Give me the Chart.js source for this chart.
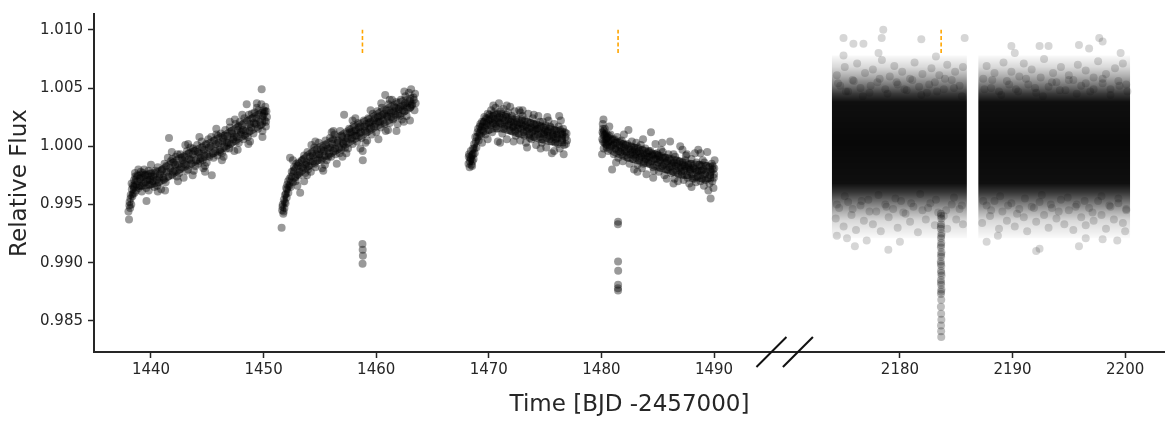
<!DOCTYPE html>
<html><head><meta charset="utf-8">
<script src="https://cdn.jsdelivr.net/npm/chart.js@4"></script>
<style>html,body{margin:0;padding:0;background:#fff}canvas{display:block}</style>
</head><body>
<canvas id="c" width="1165" height="422"></canvas>
<script>
// ---------- DATA ----------
const xTickValues = [1440, 1450, 1460, 1470, 1480, 1490, 2180, 2190, 2200];
const yTickValues = [0.985, 0.990, 0.995, 1.000, 1.005, 1.010];
const transitTimes = [1458.78, 1481.48, 2183.66];
const transitMarkFlux = [1.0080, 1.0100];
const leftPanelRange = [1434.94, 1495.1];
const rightPanelRange = [2170.94, 2203.54];

const segA = [[1438.00,0.9944],[1438.05,0.9937],[1438.10,0.9952],[1438.15,0.9947],[1438.20,0.9958],[1438.25,0.9950],[1438.30,0.9963],[1438.35,0.9957],[1438.40,0.9966],[1438.50,0.9971],[1438.55,0.9960],[1438.60,0.9974],[1438.70,0.9967],[1438.80,0.9975],[1438.90,0.9964],[1439.00,0.9972],[1439.10,0.9978],[1439.20,0.9966],[1439.30,0.9974],[1439.40,0.9980],[1439.50,0.9969],[1439.60,0.9953],[1439.70,0.9975],[1439.80,0.9962],[1439.90,0.9971],[1440.00,0.9977],[1440.10,0.9968],[1440.20,0.9974],[1440.30,0.9965],[1440.40,0.9979],[1440.50,0.9971],[1440.60,0.9982],[1440.70,0.9969],[1440.80,0.9976],[1440.90,0.9963],[1441.00,0.9980],[1441.10,0.9973],[1441.20,0.9985],[1441.25,0.9962],[1441.30,0.9969],[1441.40,0.9978],[1441.50,0.9990],[1441.60,1.0007],[1441.70,0.9981],[1441.90,0.9975],[1442.00,0.9986],[1442.10,0.9979],[1442.20,0.9991],[1442.30,0.9974],[1442.40,0.9984],[1442.50,0.9977],[1442.60,0.9993],[1442.70,0.9982],[1442.80,0.9988],[1442.90,0.9973],[1443.00,0.9991],[1443.10,0.9984],[1443.20,0.9996],[1443.30,0.9980],[1443.40,0.9989],[1443.50,0.9999],[1443.60,0.9985],[1443.70,0.9993],[1443.80,0.9979],[1443.90,0.9996],[1444.00,0.9988],[1444.10,1.0001],[1444.20,0.9985],[1444.30,0.9994],[1444.40,0.9990],[1444.50,1.0004],[1444.60,0.9988],[1444.70,0.9997],[1444.80,0.9983],[1444.90,1.0002],[1445.00,0.9993],[1445.10,1.0006],[1445.20,0.9991],[1445.30,1.0000],[1445.40,0.9975],[1445.50,0.9994],[1445.60,1.0005],[1445.70,0.9996],[1445.80,1.0010],[1445.90,0.9992],[1446.00,1.0003],[1446.10,0.9997],[1446.20,1.0011],[1446.30,0.9994],[1446.40,1.0007],[1446.50,1.0000],[1446.60,1.0014],[1446.70,0.9998],[1446.80,1.0009],[1446.90,1.0003],[1447.00,1.0016],[1447.10,1.0002],[1447.20,1.0011],[1447.30,1.0006],[1447.40,0.9996],[1447.50,1.0019],[1447.60,1.0008],[1447.70,1.0014],[1447.80,1.0003],[1447.90,1.0021],[1448.00,1.0012],[1448.10,1.0018],[1448.20,1.0006],[1448.30,1.0024],[1448.40,1.0013],[1448.50,1.0036],[1448.60,1.0008],[1448.70,1.0027],[1448.80,1.0019],[1448.90,1.0016],[1449.00,1.0024],[1449.10,1.0011],[1449.20,1.0029],[1449.30,1.0019],[1449.40,1.0033],[1449.50,1.0015],[1449.60,1.0027],[1449.70,1.0021],[1449.80,1.0036],[1449.83,1.0049],[1449.90,1.0013],[1450.00,1.0031],[1450.05,1.0028],[1450.10,1.0022],[1450.15,1.0034],[1450.20,1.0017],[1450.25,1.0030],[1450.30,1.0025]];
const segA2 = [[1438.08,0.9949],[1438.18,0.9955],[1438.28,0.9968],[1438.38,0.9959],[1438.48,0.9965],[1438.58,0.9977],[1438.68,0.9962],[1438.78,0.9970],[1438.88,0.9980],[1438.98,0.9966],[1439.08,0.9973],[1439.18,0.9961],[1439.28,0.9977],[1439.38,0.9968],[1439.48,0.9975],[1439.58,0.9964],[1439.68,0.9971],[1439.78,0.9979],[1439.88,0.9967],[1439.98,0.9974],[1440.15,0.9970],[1440.35,0.9976],[1440.55,0.9966],[1440.75,0.9973],[1440.95,0.9979],[1441.15,0.9971],[1441.35,0.9983],[1441.55,0.9974],[1441.75,0.9987],[1441.85,0.9995],[1441.95,0.9978],[1442.15,0.9984],[1442.35,0.9993],[1442.55,0.9980],[1442.75,0.9990],[1442.95,0.9985],[1443.05,1.0001],[1443.15,0.9979],[1443.35,0.9994],[1443.55,0.9988],[1443.75,0.9998],[1443.95,0.9983],[1444.15,0.9995],[1444.35,0.9987],[1444.55,0.9999],[1444.65,0.9981],[1444.75,0.9992],[1444.95,0.9986],[1445.15,0.9999],[1445.35,1.0008],[1445.55,0.9990],[1445.75,1.0002],[1445.95,1.0009],[1446.15,0.9995],[1446.35,1.0004],[1446.45,0.9991],[1446.55,1.0009],[1446.75,1.0003],[1446.95,0.9998],[1447.15,1.0013],[1447.35,1.0008],[1447.45,1.0023],[1447.55,1.0004],[1447.75,1.0017],[1447.95,1.0010],[1448.15,1.0014],[1448.35,1.0009],[1448.55,1.0022],[1448.65,1.0002],[1448.75,1.0013],[1448.95,1.0028],[1449.15,1.0020],[1449.35,1.0024],[1449.55,1.0031],[1449.75,1.0018],[1449.95,1.0026],[1450.12,1.0030],[1450.22,1.0021],[1440.0,0.9984],[1440.6,0.9961],[1441.9,0.9989],[1442.4,0.9970],[1443.3,1.0002],[1443.7,0.9975],[1444.3,1.0008],[1444.8,0.9978],[1445.8,1.0015],[1446.3,0.9988],[1447.0,1.0021],[1447.7,0.9997],[1448.1,1.0027],[1448.8,1.0004],[1449.4,1.0037],[1449.9,1.0008]];

const segB = [[1451.60,0.9930],[1451.65,0.9945],[1451.70,0.9950],[1451.75,0.9942],[1451.80,0.9954],[1451.85,0.9947],[1451.90,0.9958],[1451.95,0.9951],[1452.00,0.9964],[1452.05,0.9956],[1452.10,0.9967],[1452.20,0.9960],[1452.30,0.9972],[1452.35,0.9990],[1452.40,0.9965],[1452.50,0.9978],[1452.60,0.9969],[1452.70,0.9982],[1452.80,0.9973],[1452.90,0.9985],[1453.00,0.9976],[1453.10,0.9986],[1453.20,0.9978],[1453.25,0.9960],[1453.40,0.9988],[1453.50,0.9981],[1453.60,0.9992],[1453.70,0.9977],[1453.80,0.9986],[1453.90,0.9995],[1454.00,0.9983],[1454.10,0.9991],[1454.20,0.9978],[1454.30,0.9994],[1454.40,0.9987],[1454.50,0.9999],[1454.60,0.9982],[1454.70,0.9993],[1454.80,0.9988],[1454.90,1.0003],[1455.00,0.9990],[1455.10,0.9997],[1455.20,0.9981],[1455.30,0.9999],[1455.40,0.9992],[1455.50,1.0005],[1455.60,0.9988],[1455.70,0.9998],[1455.80,0.9994],[1455.90,1.0007],[1456.00,0.9991],[1456.10,1.0002],[1456.20,0.9996],[1456.30,1.0010],[1456.40,0.9993],[1456.50,0.9985],[1456.60,1.0005],[1456.70,0.9999],[1456.80,1.0013],[1456.90,0.9997],[1457.00,1.0008],[1457.10,1.0002],[1457.15,1.0027],[1457.30,1.0004],[1457.40,1.0011],[1457.50,0.9998],[1457.60,1.0015],[1457.70,1.0006],[1457.80,1.0012],[1457.90,1.0002],[1458.00,1.0018],[1458.10,1.0009],[1458.20,1.0014],[1458.30,1.0004],[1458.40,1.0020],[1458.50,1.0011],[1458.60,1.0017],[1458.70,1.0007],[1458.90,1.0022],[1459.00,1.0013],[1459.10,1.0019],[1459.20,1.0005],[1459.30,1.0024],[1459.40,1.0015],[1459.50,1.0021],[1459.60,1.0010],[1459.70,1.0028],[1459.80,1.0017],[1459.90,1.0024],[1460.00,1.0012],[1460.10,1.0030],[1460.20,1.0021],[1460.30,1.0026],[1460.40,1.0016],[1460.50,1.0033],[1460.60,1.0022],[1460.70,1.0028],[1460.80,1.0044],[1460.85,1.0013],[1460.90,1.0031],[1461.00,1.0025],[1461.10,1.0036],[1461.20,1.0020],[1461.30,1.0029],[1461.40,1.0040],[1461.50,1.0023],[1461.60,1.0034],[1461.70,1.0027],[1461.80,1.0038],[1461.90,1.0019],[1462.00,1.0032],[1462.10,1.0026],[1462.20,1.0040],[1462.30,1.0023],[1462.40,1.0035],[1462.50,1.0030],[1462.60,1.0043],[1462.70,1.0026],[1462.80,1.0037],[1462.90,1.0046],[1463.00,1.0033],[1463.10,1.0049],[1463.20,1.0036],[1463.30,1.0042],[1463.40,1.0031],[1463.45,1.0045]];
const segB2 = [[1451.68,0.9948],[1451.78,0.9944],[1451.88,0.9952],[1451.98,0.9959],[1452.08,0.9963],[1452.18,0.9970],[1452.28,0.9966],[1452.45,0.9974],[1452.65,0.9979],[1452.85,0.9970],[1453.05,0.9983],[1453.15,0.9975],[1453.35,0.9982],[1453.55,0.9989],[1453.75,0.9984],[1453.85,0.9975],[1453.95,0.9980],[1454.15,0.9987],[1454.25,1.0001],[1454.35,0.9992],[1454.55,0.9985],[1454.75,0.9997],[1454.95,0.9993],[1455.15,0.9988],[1455.35,0.9996],[1455.45,0.9984],[1455.55,1.0001],[1455.75,0.9991],[1455.95,0.9999],[1456.05,1.0012],[1456.15,1.0006],[1456.35,0.9998],[1456.55,1.0003],[1456.75,0.9994],[1456.95,1.0009],[1457.05,1.0003],[1457.25,0.9999],[1457.35,0.9994],[1457.45,1.0007],[1457.65,1.0012],[1457.85,1.0007],[1458.05,1.0013],[1458.15,1.0024],[1458.25,1.0009],[1458.45,1.0016],[1458.65,1.0012],[1458.95,1.0017],[1459.05,1.0003],[1459.15,1.0012],[1459.35,1.0020],[1459.55,1.0016],[1459.75,1.0022],[1459.95,1.0019],[1460.15,1.0025],[1460.35,1.0021],[1460.45,1.0037],[1460.55,1.0027],[1460.75,1.0019],[1460.95,1.0026],[1461.05,1.0014],[1461.15,1.0031],[1461.35,1.0025],[1461.55,1.0030],[1461.75,1.0033],[1461.95,1.0028],[1462.15,1.0034],[1462.35,1.0031],[1462.45,1.0021],[1462.55,1.0037],[1462.75,1.0033],[1462.95,1.0039],[1463.15,1.0035],[1463.35,1.0040],[1463.50,1.0037],[1453.6,0.9970],[1454.6,1.0004],[1455.3,0.9979],[1456.2,1.0013],[1457.0,0.9991],[1457.9,1.0022],[1458.6,0.9998],[1459.5,1.0031],[1460.2,1.0006],[1461.2,1.0040],[1461.8,1.0013],[1462.5,1.0047],[1463.0,1.0022],[1452.6,0.9988],[1453.0,0.9966]];

const segC = [[1468.20,0.9985],[1468.25,0.9993],[1468.30,0.9982],[1468.35,0.9990],[1468.40,0.9996],[1468.45,0.9984],[1468.50,0.9992],[1468.55,0.9987],[1468.60,0.9998],[1468.65,0.9989],[1468.70,1.0002],[1468.75,0.9994],[1468.80,1.0008],[1468.90,0.9999],[1469.00,1.0012],[1469.10,1.0005],[1469.20,1.0017],[1469.30,1.0009],[1469.40,1.0021],[1469.50,1.0013],[1469.60,1.0025],[1469.70,1.0010],[1469.80,1.0020],[1469.90,1.0028],[1470.00,1.0014],[1470.10,1.0023],[1470.20,1.0031],[1470.30,1.0012],[1470.40,1.0026],[1470.50,1.0019],[1470.60,1.0033],[1470.70,1.0015],[1470.80,1.0024],[1470.90,1.0037],[1471.00,1.0020],[1471.10,1.0028],[1471.20,1.0011],[1471.30,1.0032],[1471.40,1.0017],[1471.50,1.0025],[1471.60,1.0006],[1471.70,1.0029],[1471.80,1.0019],[1471.90,1.0034],[1472.00,1.0013],[1472.10,1.0023],[1472.20,1.0017],[1472.30,1.0030],[1472.40,1.0009],[1472.50,1.0021],[1472.60,1.0015],[1472.70,1.0031],[1472.80,1.0005],[1472.90,1.0019],[1473.00,1.0026],[1473.10,1.0012],[1473.20,1.0022],[1473.30,1.0003],[1473.40,1.0016],[1473.50,1.0028],[1473.60,1.0010],[1473.70,1.0020],[1473.80,1.0006],[1473.90,1.0024],[1474.00,1.0013],[1474.10,1.0018],[1474.20,1.0001],[1474.30,1.0015],[1474.40,1.0026],[1474.50,1.0008],[1474.60,1.0017],[1474.70,1.0003],[1474.80,1.0021],[1474.90,1.0010],[1475.00,1.0014],[1475.10,0.9999],[1475.20,1.0012],[1475.30,1.0022],[1475.40,1.0006],[1475.50,1.0016],[1475.60,0.9994],[1475.70,1.0010],[1475.80,1.0019],[1475.90,1.0003],[1476.00,1.0013],[1476.10,1.0007],[1476.20,1.0017],[1476.25,1.0026],[1476.30,0.9998],[1476.40,1.0011],[1476.50,1.0005],[1476.60,1.0015],[1476.65,0.9993],[1476.70,1.0001],[1476.80,1.0008],[1476.85,1.0002],[1476.90,1.0011]];
const segC2 = [[1468.22,0.9991],[1468.32,0.9987],[1468.42,0.9989],[1468.52,0.9983],[1468.62,0.9993],[1468.72,0.9998],[1468.85,1.0004],[1468.95,1.0008],[1469.05,1.0015],[1469.15,1.0011],[1469.25,1.0019],[1469.35,1.0014],[1469.45,1.0017],[1469.55,1.0021],[1469.65,1.0016],[1469.75,1.0024],[1469.85,1.0018],[1469.95,1.0022],[1470.05,1.0027],[1470.15,1.0018],[1470.25,1.0024],[1470.35,1.0020],[1470.45,1.0029],[1470.55,1.0023],[1470.65,1.0017],[1470.75,1.0028],[1470.85,1.0021],[1470.95,1.0025],[1471.05,1.0030],[1471.15,1.0019],[1471.25,1.0024],[1471.35,1.0015],[1471.45,1.0022],[1471.55,1.0027],[1471.65,1.0018],[1471.75,1.0023],[1471.85,1.0014],[1471.95,1.0021],[1472.05,1.0026],[1472.15,1.0016],[1472.25,1.0020],[1472.35,1.0013],[1472.45,1.0024],[1472.55,1.0018],[1472.65,1.0011],[1472.75,1.0020],[1472.85,1.0015],[1472.95,1.0023],[1473.05,1.0017],[1473.15,1.0009],[1473.25,1.0018],[1473.35,1.0013],[1473.45,1.0021],[1473.55,1.0015],[1473.65,1.0007],[1473.75,1.0016],[1473.85,1.0012],[1473.95,1.0019],[1474.05,1.0008],[1474.15,1.0014],[1474.25,1.0019],[1474.35,1.0010],[1474.45,1.0015],[1474.55,1.0021],[1474.65,1.0011],[1474.75,1.0006],[1474.85,1.0016],[1474.95,1.0012],[1475.05,1.0018],[1475.15,1.0007],[1475.25,1.0013],[1475.35,1.0009],[1475.45,1.0017],[1475.55,1.0004],[1475.65,1.0012],[1475.75,1.0008],[1475.85,1.0014],[1475.95,1.0006],[1476.05,1.0010],[1476.15,1.0002],[1476.35,1.0014],[1476.45,1.0007],[1476.55,1.0010],[1476.75,1.0012],[1476.95,1.0005],[1469.9,1.0006],[1470.4,1.0035],[1471.0,1.0003],[1471.6,1.0035],[1472.2,1.0004],[1472.8,1.0029],[1473.4,0.9999],[1474.0,1.0027],[1474.6,0.9998],[1475.2,1.0025],[1475.8,0.9996],[1476.4,1.0022],[1470.8,1.0004],[1473.0,1.0031],[1469.4,1.0003]];

const segD = [[1480.06,0.9993],[1480.10,1.0012],[1480.12,1.0019],[1480.15,1.0004],[1480.18,1.0023],[1480.20,0.9998],[1480.25,1.0009],[1480.30,1.0015],[1480.40,1.0006],[1480.45,1.0011],[1480.50,1.0001],[1480.55,1.0008],[1480.60,0.9996],[1480.65,1.0004],[1480.80,1.0010],[1480.90,1.0000],[1480.95,0.9980],[1481.00,1.0006],[1481.10,0.9993],[1481.20,1.0003],[1481.30,0.9997],[1481.40,1.0008],[1481.50,0.9990],[1481.60,1.0001],[1481.70,0.9995],[1481.80,1.0005],[1481.90,0.9987],[1482.00,0.9999],[1482.20,0.9992],[1482.30,1.0002],[1482.40,1.0014],[1482.50,0.9985],[1482.60,0.9997],[1482.70,1.0004],[1482.80,0.9989],[1482.90,0.9999],[1483.00,0.9993],[1483.10,1.0003],[1483.20,0.9984],[1483.30,0.9996],[1483.40,0.9990],[1483.50,1.0001],[1483.60,0.9981],[1483.70,0.9994],[1483.80,0.9987],[1483.90,0.9998],[1484.00,0.9976],[1484.10,0.9991],[1484.20,0.9996],[1484.30,0.9985],[1484.40,1.0012],[1484.50,0.9993],[1484.60,0.9982],[1484.70,0.9989],[1484.80,1.0002],[1484.90,0.9984],[1485.00,0.9992],[1485.10,0.9978],[1485.20,0.9988],[1485.30,0.9997],[1485.40,0.9983],[1485.50,0.9990],[1485.60,0.9975],[1485.70,0.9986],[1485.90,0.9980],[1486.00,0.9989],[1486.10,1.0004],[1486.20,0.9977],[1486.30,0.9985],[1486.40,0.9993],[1486.50,0.9972],[1486.60,0.9983],[1486.70,0.9988],[1486.80,0.9970],[1486.90,0.9981],[1487.00,1.0000],[1487.10,0.9978],[1487.20,0.9986],[1487.30,0.9971],[1487.40,0.9983],[1487.50,0.9992],[1487.60,0.9975],[1487.70,0.9984],[1487.80,0.9968],[1487.90,0.9980],[1488.00,0.9989],[1488.10,0.9972],[1488.20,0.9981],[1488.30,0.9994],[1488.40,0.9969],[1488.50,0.9978],[1488.60,0.9997],[1488.70,0.9984],[1488.80,0.9970],[1488.90,0.9979],[1489.00,0.9988],[1489.10,0.9966],[1489.20,0.9976],[1489.30,0.9983],[1489.40,0.9995],[1489.45,0.9972],[1489.60,0.9968],[1489.70,0.9955],[1489.75,0.9978],[1489.80,0.9985],[1489.85,0.9970],[1489.90,0.9980],[1489.95,0.9964],[1490.00,0.9976],[1490.05,0.9988]];
const segD2 = [[1480.08,1.0006],[1480.13,1.0015],[1480.16,1.0010],[1480.22,1.0013],[1480.28,1.0003],[1480.33,1.0010],[1480.38,1.0002],[1480.48,1.0007],[1480.58,1.0003],[1480.68,1.0009],[1480.75,0.9999],[1480.85,1.0005],[1481.05,1.0001],[1481.15,1.0006],[1481.25,0.9998],[1481.35,1.0003],[1481.55,0.9996],[1481.65,1.0004],[1481.75,0.9999],[1481.85,0.9993],[1481.95,1.0002],[1482.05,0.9996],[1482.15,1.0001],[1482.25,0.9995],[1482.35,0.9990],[1482.45,0.9998],[1482.55,0.9993],[1482.65,1.0000],[1482.75,0.9995],[1482.85,0.9992],[1482.95,0.9997],[1483.05,0.9990],[1483.15,0.9995],[1483.25,0.9999],[1483.35,0.9988],[1483.45,0.9994],[1483.55,0.9991],[1483.65,0.9997],[1483.75,0.9985],[1483.85,0.9992],[1483.95,0.9989],[1484.05,0.9994],[1484.15,0.9986],[1484.25,0.9991],[1484.35,0.9996],[1484.45,0.9987],[1484.55,0.9992],[1484.65,0.9979],[1484.75,0.9993],[1484.85,0.9989],[1484.95,0.9994],[1485.05,0.9986],[1485.15,0.9991],[1485.25,0.9981],[1485.35,0.9990],[1485.45,0.9995],[1485.55,0.9984],[1485.65,0.9990],[1485.75,0.9980],[1485.85,0.9987],[1485.95,0.9993],[1486.05,0.9982],[1486.15,0.9988],[1486.25,0.9983],[1486.35,0.9978],[1486.45,0.9986],[1486.55,0.9991],[1486.65,0.9979],[1486.75,0.9985],[1486.85,0.9976],[1486.95,0.9987],[1487.05,0.9982],[1487.15,0.9975],[1487.25,0.9984],[1487.35,0.9979],[1487.45,0.9988],[1487.55,0.9981],[1487.65,0.9973],[1487.75,0.9982],[1487.85,0.9978],[1487.95,0.9985],[1488.05,0.9976],[1488.15,0.9983],[1488.25,0.9972],[1488.35,0.9980],[1488.45,0.9986],[1488.55,0.9974],[1488.65,0.9979],[1488.75,0.9975],[1488.85,0.9983],[1488.95,0.9972],[1489.05,0.9980],[1489.15,0.9986],[1489.25,0.9971],[1489.35,0.9978],[1489.55,0.9982],[1489.65,0.9975],[1489.88,0.9983],[1489.98,0.9973],[1490.02,0.9981],[1480.7,1.0017],[1481.3,0.9986],[1482.0,1.0010],[1482.9,0.9980],[1483.7,1.0006],[1484.6,0.9973],[1485.4,1.0003],[1486.4,0.9968],[1487.2,0.9997],[1488.0,0.9965],[1488.8,0.9994],[1489.5,0.9962],[1483.2,0.9978],[1485.8,0.9972],[1487.6,0.9993]];

// dense centre of each left-hand segment: [time, upper, lower]
const coreA = [[1438.1,0.9960,0.9946],[1438.4,0.9974,0.9958],[1438.8,0.9978,0.9962],[1439.5,0.9979,0.9963],[1440.5,0.9981,0.9965],[1441.5,0.9987,0.9970],[1442.5,0.9993,0.9976],[1443.5,0.9998,0.9981],[1444.5,1.0003,0.9986],[1445.5,1.0008,0.9990],[1446.5,1.0013,0.9995],[1447.5,1.0019,1.0001],[1448.5,1.0025,1.0007],[1449.5,1.0031,1.0013],[1450.25,1.0033,1.0018]];
const coreB = [[1451.7,0.9955,0.9942],[1452.0,0.9967,0.9951],[1452.5,0.9982,0.9965],[1453.0,0.9988,0.9971],[1454.0,0.9997,0.9979],[1455.0,1.0003,0.9985],[1456.0,1.0008,0.9990],[1457.0,1.0014,0.9996],[1458.0,1.0020,1.0002],[1459.0,1.0025,1.0007],[1460.0,1.0031,1.0013],[1461.0,1.0036,1.0018],[1462.0,1.0041,1.0023],[1463.0,1.0044,1.0029],[1463.4,1.0045,1.0032]];
const coreC = [[1468.25,0.9995,0.9983],[1468.6,0.9999,0.9985],[1469.0,1.0016,1.0000],[1469.5,1.0025,1.0008],[1470.5,1.0030,1.0012],[1471.5,1.0029,1.0011],[1472.5,1.0026,1.0008],[1473.5,1.0024,1.0006],[1474.5,1.0021,1.0003],[1475.5,1.0018,1.0001],[1476.85,1.0015,1.0000]];
const coreD = [[1480.1,1.0017,0.9997],[1480.5,1.0012,0.9995],[1481.0,1.0009,0.9992],[1482.0,1.0005,0.9988],[1483.0,1.0002,0.9985],[1484.0,0.9999,0.9982],[1485.0,0.9996,0.9979],[1486.0,0.9993,0.9976],[1487.0,0.9990,0.9973],[1488.0,0.9988,0.9971],[1489.0,0.9987,0.9969],[1490.0,0.9985,0.9970]];

const dipB = [[1458.78,0.9916],[1458.80,0.9911],[1458.82,0.9906],[1458.79,0.9899],[1458.80,0.9996],[1458.81,0.9988]];
const dipD = [[1481.48,0.9935],[1481.47,0.9933],[1481.48,0.9901],[1481.49,0.9893],[1481.48,0.9881],[1481.47,0.9878],[1481.48,0.9876]];
const dipR = [[2183.64,0.9942],[2183.66,0.9940],[2183.68,0.9938],[2183.66,0.9933],[2183.64,0.9931],[2183.63,0.9929],[2183.69,0.9925],[2183.67,0.9923],[2183.65,0.9921],[2183.67,0.9917],[2183.65,0.9915],[2183.64,0.9913],[2183.68,0.9909],[2183.66,0.9907],[2183.66,0.9905],[2183.63,0.9901],[2183.64,0.9899],[2183.67,0.9897],[2183.65,0.9893],[2183.67,0.9891],[2183.69,0.9889],[2183.64,0.9885],[2183.65,0.9883],[2183.66,0.9881],[2183.68,0.9877],[2183.66,0.9875],[2183.65,0.9873],[2183.67,0.9868],[2183.64,0.9862],[2183.66,0.9856],[2183.68,0.9851],[2183.65,0.9846],[2183.66,0.9841],[2183.67,0.9836]];

const haloHi = [[2174.4,1.0061],[2174.7,1.0052],[2175.1,1.0068],[2175.4,1.0047],[2175.8,1.0057],[2176.2,1.0071],[2176.5,1.0050],[2176.9,1.0063],[2177.3,1.0046],[2177.6,1.0066],[2178.0,1.0055],[2178.4,1.0074],[2178.7,1.0049],[2179.1,1.0060],[2179.5,1.0069],[2179.8,1.0053],[2180.2,1.0064],[2180.6,1.0048],[2180.9,1.0058],[2181.3,1.0072],[2181.7,1.0051],[2182.0,1.0062],[2182.4,1.0046],[2182.8,1.0067],[2183.1,1.0055],[2183.5,1.0061],[2183.9,1.0049],[2184.2,1.0070],[2184.6,1.0057],[2184.9,1.0064],[2185.3,1.0052],[2185.6,1.0068],[2187.4,1.0058],[2187.7,1.0069],[2188.1,1.0050],[2188.4,1.0063],[2188.8,1.0047],[2189.2,1.0072],[2189.5,1.0056],[2189.9,1.0064],[2190.3,1.0049],[2190.6,1.0060],[2191.0,1.0071],[2191.4,1.0053],[2191.7,1.0066],[2192.1,1.0046],[2192.5,1.0059],[2192.8,1.0075],[2193.2,1.0051],[2193.6,1.0063],[2193.9,1.0055],[2194.3,1.0068],[2194.7,1.0048],[2195.0,1.0061],[2195.4,1.0057],[2195.8,1.0070],[2196.1,1.0052],[2196.5,1.0065],[2196.9,1.0047],[2197.2,1.0059],[2197.6,1.0073],[2198.0,1.0054],[2198.3,1.0062],[2198.7,1.0049],[2199.1,1.0067],[2199.4,1.0056],[2199.8,1.0071],[2200.1,1.0053]];
const haloLo = [[2174.3,0.9938],[2174.6,0.9947],[2175.0,0.9931],[2175.4,0.9952],[2175.7,0.9941],[2176.1,0.9928],[2176.5,0.9949],[2176.8,0.9936],[2177.2,0.9954],[2177.6,0.9933],[2177.9,0.9944],[2178.3,0.9927],[2178.7,0.9950],[2179.0,0.9939],[2179.4,0.9946],[2179.8,0.9930],[2180.1,0.9953],[2180.5,0.9942],[2180.9,0.9935],[2181.2,0.9948],[2181.6,0.9926],[2182.0,0.9945],[2182.3,0.9937],[2182.7,0.9951],[2183.1,0.9932],[2183.4,0.9943],[2183.9,0.9940],[2184.2,0.9929],[2184.6,0.9950],[2185.0,0.9937],[2185.3,0.9946],[2185.6,0.9933],[2187.3,0.9934],[2187.7,0.9949],[2188.0,0.9940],[2188.4,0.9953],[2188.8,0.9929],[2189.1,0.9944],[2189.5,0.9936],[2189.9,0.9951],[2190.2,0.9931],[2190.6,0.9946],[2191.0,0.9939],[2191.3,0.9927],[2191.7,0.9948],[2192.1,0.9935],[2192.4,0.9952],[2192.8,0.9941],[2193.2,0.9930],[2193.5,0.9947],[2193.9,0.9938],[2194.3,0.9954],[2194.6,0.9933],[2195.0,0.9945],[2195.4,0.9928],[2195.7,0.9950],[2196.1,0.9939],[2196.5,0.9932],[2196.8,0.9947],[2197.2,0.9936],[2197.6,0.9953],[2197.9,0.9941],[2198.3,0.9929],[2198.7,0.9948],[2199.0,0.9937],[2199.4,0.9951],[2199.8,0.9934],[2200.1,0.9945]];
const haloMid = [[2174.5,1.0054],[2175.2,1.0047],[2175.9,1.0056],[2176.7,1.0043],[2177.4,1.0052],[2178.2,1.0058],[2178.9,1.0045],[2179.7,1.0055],[2180.4,1.0049],[2181.1,1.0057],[2181.9,1.0044],[2182.6,1.0053],[2183.3,1.0047],[2184.0,1.0058],[2184.8,1.0050],[2185.5,1.0043],[2174.4,0.9950],[2175.1,0.9957],[2175.8,0.9946],[2176.6,0.9953],[2177.3,0.9944],[2178.1,0.9958],[2178.8,0.9948],[2179.6,0.9955],[2180.3,0.9943],[2181.0,0.9951],[2181.8,0.9959],[2182.5,0.9947],[2183.2,0.9954],[2184.1,0.9945],[2184.8,0.9956],[2185.5,0.9949],[2187.5,1.0049],[2188.2,1.0057],[2189.0,1.0044],[2189.7,1.0053],[2190.5,1.0047],[2191.2,1.0058],[2192.0,1.0050],[2192.7,1.0043],[2193.5,1.0055],[2194.2,1.0048],[2195.0,1.0057],[2195.7,1.0045],[2196.5,1.0054],[2197.2,1.0049],[2198.0,1.0058],[2198.7,1.0044],[2199.5,1.0052],[2200.2,1.0047],[2187.4,0.9953],[2188.1,0.9945],[2188.9,0.9957],[2189.6,0.9949],[2190.4,0.9942],[2191.1,0.9955],[2191.9,0.9947],[2192.6,0.9958],[2193.4,0.9950],[2194.1,0.9944],[2194.9,0.9956],[2195.6,0.9948],[2196.4,0.9953],[2197.1,0.9943],[2197.9,0.9957],[2198.6,0.9949],[2199.4,0.9955],[2200.1,0.9946]];
const outliersR = [[2174.99,1.0093],[2175.87,1.0088],[2176.76,1.0088],[2178.38,1.0093],[2178.52,1.0100],[2174.99,1.0078],[2178.10,1.0080],[2181.90,1.0092],[2183.20,1.0077],[2185.75,1.0093],[2189.90,1.0086],[2190.20,1.0080],[2192.40,1.0086],[2193.20,1.0086],[2195.90,1.0087],[2196.80,1.0084],[2197.70,1.0093],[2198.00,1.0090],[2199.60,1.0080],[2176.00,0.9914],[2178.97,0.9911],[2174.40,0.9923],[2175.30,0.9921],[2177.05,0.9919],[2180.00,0.9918],[2187.70,0.9918],[2188.70,0.9923],[2192.10,0.9910],[2192.40,0.9912],[2195.90,0.9914],[2196.50,0.9921],[2198.00,0.9920],[2199.30,0.9919],[2200.00,0.9927]];

// dense right-hand sector: extent of each observing block [time, upper, lower]
const block1 = [[2173.95,1.0078,0.9921],[2185.95,1.0078,0.9921]];
const block2 = [[2186.95,1.0078,0.9921],[2200.45,1.0078,0.9921]];
// vertical density profile of those blocks (flux level -> opacity of the point cloud)
const densityFlux  = [1.0078, 1.0068, 1.0060, 1.0052, 1.0045, 1.0038, 1.0003, 0.9968, 0.9960, 0.9952, 0.9944, 0.9936, 0.9921];
const densityAlpha = [0.02, 0.15, 0.32, 0.55, 0.78, 0.94, 0.97, 0.94, 0.78, 0.55, 0.32, 0.15, 0.02];

// ---------- BROKEN AXIS MAPPING ----------
const GAP = (rightPanelRange[0] - leftPanelRange[1]) - 2.35; // days hidden between the two panels
const toX = t => (t > 2000 ? t - GAP : t);
const fromX = v => (v > leftPanelRange[1] + 1 ? v + GAP : v);
const pts = arr => arr.map(p => ({x: toX(p[0]), y: p[1]}));

const FONT = 'DejaVu Sans';
const TEXT = '#262626';
const datasets = [];
const leftPt = {type:'scatter', pointRadius:4, pointHoverRadius:4, pointBorderWidth:0, backgroundColor:'rgba(0,0,0,0.40)', borderColor:'rgba(0,0,0,0)', order:1};
const rightPt = {type:'scatter', pointRadius:4, pointHoverRadius:4, pointBorderWidth:0, backgroundColor:'rgba(0,0,0,0.16)', borderColor:'rgba(0,0,0,0)', order:1};

function band(b, color, tension) {
  datasets.push({type:'line', data:b.map(p => ({x:toX(p[0]), y:p[1]})), borderWidth:0, pointRadius:0, showLine:true, tension, fill:'+1', backgroundColor:color, order:5});
  datasets.push({type:'line', data:b.map(p => ({x:toX(p[0]), y:p[2]})), borderWidth:0, pointRadius:0, showLine:true, tension, fill:false, order:5});
}
function densityGradient(context) {
  const chart = context.chart, ys = chart.scales.y;
  if (!chart.chartArea || !ys) return 'rgba(0,0,0,0.5)';
  const top = densityFlux[0], bot = densityFlux[densityFlux.length - 1];
  const g = chart.ctx.createLinearGradient(0, ys.getPixelForValue(top), 0, ys.getPixelForValue(bot));
  densityFlux.forEach((f, i) => g.addColorStop((top - f) / (top - bot), 'rgba(0,0,0,' + densityAlpha[i] + ')'));
  return g;
}

transitTimes.forEach(t => datasets.push({type:'line', data:transitMarkFlux.map(f => ({x:toX(t), y:f})), borderColor:'#FFA500', borderWidth:1.6, borderDash:[4,2.5], pointRadius:0, fill:false, showLine:true, order:0}));
[segA, segA2, segB, segB2, segC, segC2, segD, segD2, dipB, dipD].forEach(s => datasets.push(Object.assign({data:pts(s)}, leftPt)));
[haloHi, haloLo, haloMid, outliersR].forEach(s => datasets.push(Object.assign({data:pts(s)}, rightPt)));
datasets.push(Object.assign({data:pts(dipR)}, rightPt, {backgroundColor:'rgba(0,0,0,0.26)'}));

[coreA, coreB, coreC, coreD].forEach(b => band(b, 'rgba(0,0,0,0.5)', 0.3));
[block1, block2].forEach(b => band(b, densityGradient, 0));

const breakPlugin = {
  id:'breaks',
  afterDraw(chart) {
    const ctx = chart.ctx, xs = chart.scales.x, yb = chart.chartArea.bottom;
    ctx.save();
    ctx.strokeStyle = '#111'; ctx.lineWidth = 2;
    [leftPanelRange[1], rightPanelRange[0]].forEach(t => {
      const px = xs.getPixelForValue(toX(t));
      ctx.beginPath(); ctx.moveTo(px - 15, yb + 15); ctx.lineTo(px + 15, yb - 15); ctx.stroke();
    });
    ctx.restore();
  }
};

new Chart(document.getElementById('c'), {
  type:'scatter',
  data:{datasets},
  options:{
    responsive:false, animation:false, devicePixelRatio:1,
    layout:{autoPadding:false, padding:{top:10, left:0, right:0, bottom:0}},
    plugins:{legend:{display:false}, tooltip:{enabled:false}},
    scales:{
      x:{type:'linear', min:leftPanelRange[0], max:toX(rightPanelRange[1]),
        afterBuildTicks:s => { s.ticks = xTickValues.map(v => ({value:toX(v)})); },
        afterFit:s => { s.height = 70; },
        ticks:{font:{family:FONT, size:15}, color:TEXT, padding:3, autoSkip:false, maxRotation:0,
          callback:v => String(Math.round(fromX(v)))},
        grid:{display:true, drawOnChartArea:false, drawTicks:true, tickLength:6, tickWidth:1.5, tickColor:'#262626'},
        border:{display:true, color:'#262626', width:2},
        title:{display:true, text:'Time [BJD -2457000]', font:{family:FONT, size:23}, color:TEXT, padding:{top:0, bottom:3}}
      },
      y:{type:'linear', min:0.98232, max:1.01136,
        afterBuildTicks:s => { s.ticks = yTickValues.map(v => ({value:v})); },
        afterFit:s => { s.width = 94; },
        ticks:{font:{family:FONT, size:15}, color:TEXT, padding:5, callback:v => v.toFixed(3)},
        grid:{display:true, drawOnChartArea:false, drawTicks:true, tickLength:6, tickWidth:1.5, tickColor:'#262626'},
        border:{display:true, color:'#262626', width:2},
        title:{display:true, text:'Relative Flux', font:{family:FONT, size:23}, color:TEXT, padding:{top:6, bottom:0}}
      }
    }
  },
  plugins:[breakPlugin]
});
</script>
</body></html>
